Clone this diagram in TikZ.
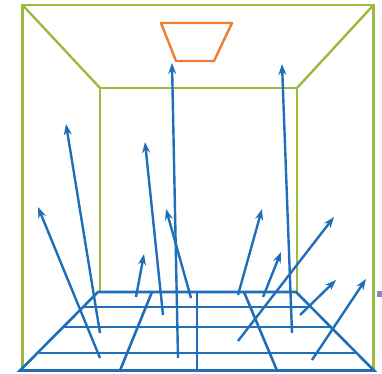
\documentclass[tikz,border=0pt]{standalone}
\usetikzlibrary{arrows.meta}
\definecolor{wallgreen}{RGB}{155,187,60}
\definecolor{raysblue}{RGB}{30,110,185}
\definecolor{lamporange}{RGB}{237,125,49}
\definecolor{markgray}{RGB}{135,135,185}
\tikzset{
  wall/.style={draw=wallgreen,line width=2.4pt},
  floorline/.style={draw=raysblue,line width=2.6pt},
  ray/.style={draw=raysblue,line width=2.4pt,-{Stealth[length=11pt,width=8pt]}},
  lamp/.style={draw=lamporange,line width=2.4pt,line join=round}
}
\begin{document}
\begin{tikzpicture}[x=1pt,y=-1pt]
\useasboundingbox (0,0) rectangle (382,373);
% room corners
\coordinate (OTL) at (22.5,5);
\coordinate (OTR) at (373.5,5);
\coordinate (OBL) at (22.5,372);
\coordinate (OBR) at (373.5,372);
\coordinate (ITL) at (100,88);
\coordinate (ITR) at (297,88);
\coordinate (IBL) at (100,292);
\coordinate (IBR) at (297,292);
% walls
\draw[wall] (OBL) -- (OTL) -- (OTR) -- (OBR);
\draw[wall] (IBL) -- (ITL) -- (ITR) -- (IBR);
\draw[wall] (OTL) -- (ITL);
\draw[wall] (OTR) -- (ITR);
% lamp
\coordinate (L1) at (161,23);
\coordinate (L2) at (232,23);
\coordinate (L3) at (214,61);
\coordinate (L4) at (176,61);
\draw[lamp] (L1) -- (L2) -- (L3) -- (L4) -- cycle;
% floor grid
\coordinate (F1) at (98,292);
\coordinate (F2) at (296,292);
\coordinate (F3) at (374,370.5);
\coordinate (F4) at (20,370.5);
\draw[floorline] (F1) -- (F2) -- (F3) -- (F4) -- cycle;
\coordinate (H1a) at (83.4,307); \coordinate (H1b) at (310.8,307);
\coordinate (H2a) at (63.9,327); \coordinate (H2b) at (330.6,327);
\coordinate (H3a) at (38.6,353); \coordinate (H3b) at (356.2,353);
\draw[floorline] (H1a) -- (H1b);
\draw[floorline] (H2a) -- (H2b);
\draw[floorline] (H3a) -- (H3b);
\coordinate (V1a) at (152,292); \coordinate (V1b) at (120,370.5);
\coordinate (V2a) at (197,292); \coordinate (V2b) at (197,370.5);
\coordinate (V3a) at (244,292); \coordinate (V3b) at (277,370.5);
\draw[floorline] (V1a) -- (V1b);
\draw[floorline] (V2a) -- (V2b);
\draw[floorline] (V3a) -- (V3b);
% rays
\foreach \i/\tx/\ty/\hx/\hy in {
  1/100/358/38/207,
  2/100/333/66/124,
  3/136/297/144/254,
  4/163/315/145/142,
  5/191/298/166/209,
  6/178/358/172/63,
  7/238/295/262/209,
  8/263/297/281/252,
  9/292/333/282/64,
  10/238/341/334/217,
  11/300/315/336/280,
  12/312/360/366/279}{
  \coordinate (t\i) at (\tx,\ty);
  \coordinate (h\i) at (\hx,\hy);
  \draw[ray] (t\i) -- (h\i);
}
% small mark at right edge
\coordinate (M1) at (377,291);
\coordinate (M2) at (382,297);
\fill[markgray] (M1) rectangle (M2);
\end{tikzpicture}
\end{document}
